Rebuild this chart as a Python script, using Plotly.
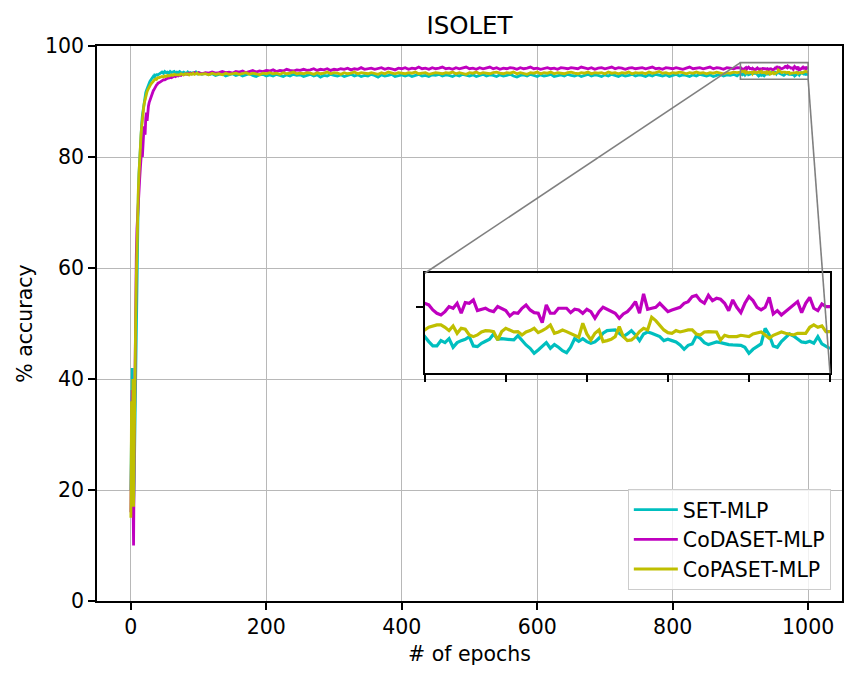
import plotly.graph_objects as go

# ---------------- data ----------------
EPOCHS_EARLY = list(range(0, 41))
EPOCHS_RAMP = list(range(42, 101, 2))
EPOCHS_MID = list(range(105, 900, 5))
EPOCHS_ZOOM = list(range(900, 1001))
EPOCHS = EPOCHS_EARLY + EPOCHS_RAMP + EPOCHS_MID + EPOCHS_ZOOM

SET_EARLY = [20, 33, 42, 30, 17, 22, 32, 44, 54, 62, 68, 73, 77, 80, 82.5, 84.5, 86, 87.5, 88.5, 89.5,
             90.3, 91, 91.6, 92, 92.4, 92.8, 93.1, 93.4, 93.6, 93.8, 94, 94.2, 94.3, 94.5, 94.4, 94.7,
             94.6, 94.9, 94.7, 95.0, 94.8]
SET_RAMP = [95.0, 95.1, 95.3, 95.1, 95.4, 95.2, 95.3, 95.1, 95.4, 95.2, 95.3, 95.4, 95.1, 95.3, 95.2,
            95.4, 95.2, 95.1, 95.3, 95.2, 95.0, 95.3, 95.1, 95.2, 95.0, 95.2, 95.1, 95.3, 95.0, 95.2]
SET_MID = [94.9, 95.1, 94.8, 95.0, 94.7, 94.9, 95.0, 94.6, 94.8, 95.0,
           94.7, 94.9, 94.6, 94.8, 95.0, 94.7, 94.5, 94.8, 94.9, 94.6,
           94.8, 94.6, 94.9, 94.7, 94.5, 94.8, 94.6, 94.9, 94.7, 94.8,
           94.5, 94.7, 94.9, 94.6, 94.8, 94.4, 94.7, 94.6, 94.9, 94.7,
           94.6, 94.8, 94.5, 94.7, 94.9, 94.6, 94.8, 94.5, 94.7, 94.6,
           94.9, 94.7, 94.4, 94.8, 94.6, 94.7, 94.9, 94.5, 94.7, 94.8,
           94.6, 94.8, 94.5, 94.7, 94.9, 94.6, 94.7, 94.5, 94.8, 94.7,
           94.9, 94.6, 94.8, 94.7, 94.5, 94.8, 94.6, 94.9, 94.7, 94.6,
           94.8, 94.5, 94.7, 94.9, 94.6, 94.8, 94.7, 94.5, 94.8, 94.6,
           94.7, 94.9, 94.6, 94.4, 94.7, 94.8, 94.6, 94.9, 94.7, 94.5,
           94.8, 94.6, 94.7, 94.9, 94.5, 94.7, 94.8, 94.6, 94.9, 94.7,
           94.6, 94.8, 94.5, 94.7, 94.9, 94.6, 94.8, 94.7, 94.5, 94.8,
           94.6, 94.9, 94.7, 94.5, 94.8, 94.6, 94.7, 94.9, 94.6, 94.8,
           94.7, 94.5, 94.8, 94.6, 94.9, 94.7, 94.6, 94.8, 94.5, 94.7,
           94.9, 94.6, 94.8, 94.7, 94.5, 94.8, 94.6, 94.9, 94.7, 94.6,
           94.8, 94.5, 94.7, 94.9, 94.6, 94.8, 94.7, 94.9, 94.6]
SET_ZOOM = [95.10, 94.95, 94.82, 94.82, 94.98, 94.92, 95.04, 94.78, 94.92, 94.98,
            95.02, 95.10, 94.82, 94.80, 94.90, 94.96, 95.02, 95.18, 95.02, 95.04,
            95.02, 95.00, 95.00, 95.13, 94.98, 94.85, 94.75, 94.60, 94.70, 94.80,
            94.92, 94.75, 94.86, 94.78, 94.68, 94.62, 94.78, 95.04, 94.96, 95.04,
            94.95, 94.90, 94.94, 95.05, 95.20, 95.28, 95.30, 95.30, 95.20, 95.10,
            95.18, 95.28, 95.15, 94.98, 95.18, 95.24, 95.20, 95.14, 95.10, 94.98,
            95.02, 94.98, 94.94, 94.85, 94.72, 94.84, 94.88, 95.12, 95.05, 94.92,
            94.86, 94.90, 94.94, 94.92, 94.88, 94.86, 94.85, 94.85, 94.84, 94.78,
            94.60, 94.72, 94.80, 94.88, 95.35, 95.15, 94.82, 94.78, 94.95, 95.08,
            95.18, 95.12, 95.04, 94.94, 94.92, 94.96, 94.90, 95.10, 94.88, 94.82,
            94.74]

CODA_EARLY = [16, 28, 38, 20, 10, 28, 44, 55, 62, 67, 70, 72, 74, 76, 78, 80, 81.5, 80, 83, 84.5,
              85.5, 84, 87, 88, 86.5, 88.5, 89.2, 89.8, 90.2, 90.6, 91, 91.3, 91.6, 91.9, 92.1, 92.4,
              92.6, 92.8, 93.0, 93.1, 93.3]
CODA_RAMP = [93.4, 93.6, 93.7, 93.9, 93.9, 94.1, 94.2, 94.2, 94.4, 94.3, 94.5, 94.6, 94.5, 94.7, 94.6,
             94.8, 94.7, 94.9, 94.8, 94.9, 95.0, 94.9, 95.1, 95.0, 95.1, 95.0, 95.2, 95.1, 95.0, 95.2]
CODA_MID = [95.0, 95.2, 95.1, 95.3, 95.1, 95.2, 95.4, 95.2, 95.3, 95.1,
            95.4, 95.3, 95.5, 95.2, 95.4, 95.6, 95.3, 95.5, 95.4, 95.6,
            95.5, 95.7, 95.4, 95.6, 95.5, 95.8, 95.6, 95.5, 95.7, 95.6,
            95.8, 95.6, 95.7, 95.9, 95.6, 95.8, 95.7, 95.9, 95.6, 95.8,
            95.7, 95.9, 95.8, 96.0, 95.7, 95.9, 95.8, 96.1, 95.8, 95.9,
            96.0, 95.8, 95.9, 96.1, 95.8, 96.0, 95.9, 95.7, 96.0, 95.9,
            96.1, 95.8, 96.0, 95.9, 96.2, 95.9, 96.0, 95.8, 96.1, 95.9,
            96.0, 96.2, 95.9, 96.0, 95.8, 96.1, 95.9, 96.0, 96.2, 95.9,
            96.0, 95.8, 96.1, 95.9, 96.0, 96.2, 95.9, 96.1, 95.8, 96.0,
            95.9, 96.1, 96.0, 95.8, 96.1, 95.9, 96.0, 96.2, 95.9, 96.0,
            95.8, 96.0, 96.1, 95.9, 96.0, 95.8, 96.1, 96.0, 95.9, 96.1,
            96.0, 95.9, 96.2, 96.0, 95.9, 96.1, 95.8, 96.0, 96.1, 95.9,
            96.0, 96.2, 95.9, 96.1, 96.0, 95.8, 96.0, 96.1, 95.9, 96.0,
            96.1, 95.9, 96.0, 96.2, 95.9, 96.0, 95.8, 96.1, 96.0, 95.9,
            96.1, 96.0, 95.8, 96.0, 96.2, 95.9, 96.0, 96.1, 95.9, 96.0,
            96.2, 95.9, 96.1, 96.0, 95.8, 96.1, 96.0, 95.9, 96.1]
CODA_ZOOM = [96.10, 96.05, 95.90, 95.80, 95.75, 95.85, 96.00, 95.95, 96.10, 95.80,
             96.12, 96.10, 96.20, 95.88, 95.92, 95.95, 95.88, 95.85, 96.00, 95.95,
             95.88, 95.72, 95.82, 95.80, 95.95, 96.05, 95.90, 95.82, 95.80, 95.52,
             96.05, 95.80, 95.80, 95.95, 95.95, 95.95, 95.82, 95.92, 95.90, 95.80,
             95.92, 95.85, 95.65, 95.85, 95.98, 95.92, 95.85, 95.80, 95.65, 95.78,
             95.85, 95.98, 96.15, 95.80, 96.38, 95.92, 95.95, 95.98, 96.10, 95.98,
             95.85, 95.90, 95.95, 95.98, 96.10, 96.15, 96.30, 96.34, 96.18, 96.10,
             96.34, 96.18, 96.25, 96.22, 96.10, 95.88, 96.20, 95.98, 95.82, 96.10,
             96.30, 96.18, 95.98, 95.90, 95.98, 96.28, 95.78, 95.88, 95.75, 95.85,
             95.92, 96.02, 96.15, 95.82, 96.10, 96.28, 95.95, 95.88, 96.08, 96.00,
             96.00]

COPA_EARLY = [15, 36, 20, 40, 17, 34, 40, 50, 58, 65, 70, 74, 77, 80, 82, 84, 85.5, 87, 88, 89,
              89.8, 90.4, 91, 91.4, 91.8, 92.1, 92.4, 92.6, 92.8, 93, 93.2, 93.3, 93.5, 93.6, 93.8,
              93.9, 94.0, 94.1, 94.0, 94.2, 94.3]
COPA_RAMP = [94.3, 94.4, 94.5, 94.4, 94.6, 94.5, 94.7, 94.6, 94.7, 94.8, 94.7, 94.9, 94.8, 94.8, 94.9,
             94.8, 95.0, 94.9, 94.8, 95.0, 94.9, 95.0, 94.8, 95.0, 94.9, 95.1, 94.9, 95.0, 95.1, 94.9]
COPA_MID = [94.9, 95.0, 94.8, 95.1, 94.9, 95.0, 94.8, 95.1, 94.9, 95.0,
            95.1, 94.9, 95.0, 95.2, 94.9, 95.1, 95.0, 94.8, 95.1, 95.0,
            95.2, 95.0, 95.1, 94.9, 95.2, 95.0, 95.1, 95.3, 95.0, 95.1,
            95.0, 95.2, 95.1, 94.9, 95.2, 95.0, 95.1, 95.3, 95.0, 95.2,
            95.1, 94.9, 95.2, 95.0, 95.1, 95.3, 95.0, 95.2, 95.1, 95.0,
            95.2, 95.1, 94.9, 95.2, 95.0, 95.3, 95.1, 95.0, 95.2, 95.1,
            95.0, 95.2, 95.1, 95.3, 95.0, 95.1, 95.2, 94.9, 95.1, 95.2,
            95.1, 95.0, 95.2, 95.1, 95.3, 95.0, 95.2, 95.1, 94.9, 95.2,
            95.1, 95.3, 95.0, 95.2, 95.1, 95.0, 95.2, 95.3, 95.1, 95.0,
            95.2, 95.1, 95.3, 95.0, 95.2, 95.1, 94.9, 95.2, 95.1, 95.3,
            95.0, 95.2, 95.1, 95.3, 95.0, 95.2, 95.1, 95.0, 95.2, 95.3,
            95.1, 95.0, 95.2, 95.1, 95.3, 95.0, 95.2, 95.1, 95.2, 95.0,
            95.3, 95.1, 95.2, 95.0, 95.2, 95.1, 95.3, 95.0, 95.2, 95.1,
            95.2, 95.0, 95.3, 95.1, 95.2, 95.4, 95.1, 95.2, 95.0, 95.2,
            95.1, 95.3, 95.2, 95.0, 95.2, 95.1, 95.3, 95.1, 95.2, 95.0,
            95.2, 95.1, 95.3, 95.2, 95.0, 95.2, 95.1, 95.3, 95.2]
COPA_ZOOM = [95.30, 95.38, 95.42, 95.45, 95.45, 95.38, 95.28, 95.42, 95.20, 95.35,
             95.32, 95.15, 95.10, 95.15, 95.24, 95.28, 95.27, 95.25, 95.00, 95.25,
             95.35, 95.30, 95.24, 95.25, 95.15, 95.24, 95.28, 95.35, 95.22, 95.28,
             95.35, 95.45, 95.20, 95.24, 95.30, 95.25, 95.20, 95.15, 95.08, 95.50,
             95.18, 95.00, 95.20, 95.30, 94.95, 94.98, 95.02, 95.10, 95.40, 95.10,
             94.98, 95.00, 95.10, 95.25, 95.35, 95.30, 95.68, 95.58, 95.45, 95.30,
             95.22, 95.20, 95.28, 95.24, 95.27, 95.30, 95.30, 95.18, 95.15, 95.24,
             95.25, 95.25, 95.24, 95.00, 95.14, 95.10, 95.10, 95.10, 95.14, 95.12,
             95.10, 95.18, 95.22, 95.24, 95.15, 95.05, 95.14, 95.18, 95.24, 95.20,
             95.18, 95.15, 95.20, 95.20, 95.20, 95.38, 95.45, 95.38, 95.42, 95.25,
             95.25]

SERIES = [
    ("SET-MLP", SET_EARLY + SET_RAMP + SET_MID + SET_ZOOM, "#00BFBF"),
    ("CoDASET-MLP", CODA_EARLY + CODA_RAMP + CODA_MID + CODA_ZOOM, "#BF00BF"),
    ("CoPASET-MLP", COPA_EARLY + COPA_RAMP + COPA_MID + COPA_ZOOM, "#BFBF00"),
]

X_RANGE = [-50, 1050]
Y_RANGE = [0, 100]
X_TICKS = [0, 200, 400, 600, 800, 1000]
Y_TICKS = [0, 20, 40, 60, 80, 100]
INSET_X = [900, 1000]
INSET_Y = [94, 97]
INSET_XTICKS = [900, 920, 940, 960, 980, 1000]
INSET_YTICKS = [96]

# ---------------- figure ----------------
W, H = 865, 680
ML, MR, MT, MB = 97, 23, 46, 79
FONT = "DejaVu Sans"
FS = 20.5
LW = 2.8

INSET_DOM_X = [0.4399, 0.9839]
INSET_DOM_Y = [0.4103, 0.5905]

fig = go.Figure()
for name, vals, col in SERIES:
    fig.add_trace(go.Scatter(x=EPOCHS, y=vals, mode="lines", name=name, legendgroup=name,
                             line=dict(color=col, width=LW), xaxis="x", yaxis="y"))
for name, vals, col in SERIES:
    fig.add_trace(go.Scatter(x=EPOCHS, y=vals, mode="lines", name=name, showlegend=False,
                             legendgroup=name,
                             line=dict(color=col, width=LW + 0.4), xaxis="x2", yaxis="y2"))

axis_common = dict(showline=True, linecolor="black", linewidth=1.6, mirror=True,
                   ticks="outside", ticklen=7, tickwidth=1.6, tickcolor="black",
                   zeroline=False, tickfont=dict(family=FONT, size=FS, color="black"))

fig.update_layout(
    width=W, height=H,
    margin=dict(l=ML, r=MR, t=MT, b=MB),
    paper_bgcolor="white", plot_bgcolor="white",
    font=dict(family=FONT, size=FS, color="black"),
    title=dict(text="ISOLET", x=0.5, xref="paper", xanchor="center",
               y=1, yref="paper", yanchor="bottom", pad=dict(b=12),
               font=dict(family=FONT, size=24.5, color="black")),
    xaxis=dict(range=X_RANGE, tickvals=X_TICKS, showgrid=True, gridcolor="#b8b8b8", gridwidth=1.2,
               title=dict(text="# of epochs", font=dict(family=FONT, size=FS, color="black"), standoff=8),
               **axis_common),
    yaxis=dict(range=Y_RANGE, tickvals=Y_TICKS, showgrid=True, gridcolor="#b8b8b8", gridwidth=1.2,
               title=dict(text="% accuracy", font=dict(family=FONT, size=FS, color="black"), standoff=7),
               **axis_common),
    xaxis2=dict(domain=INSET_DOM_X, anchor="y2", range=INSET_X, tickvals=INSET_XTICKS,
                showticklabels=False, showgrid=False, **axis_common),
    yaxis2=dict(domain=INSET_DOM_Y, anchor="x2", range=INSET_Y, tickvals=INSET_YTICKS,
                showticklabels=False, showgrid=False, **axis_common),
    legend=dict(x=0.985, xanchor="right", y=0.02, yanchor="bottom",
                bgcolor="rgba(255,255,255,0.8)", bordercolor="#cccccc", borderwidth=1,
                font=dict(family=FONT, size=FS, color="black"),
                traceorder="grouped", tracegroupgap=0, itemwidth=44),
    showlegend=True,
)


def px(x):
    return (x - X_RANGE[0]) / (X_RANGE[1] - X_RANGE[0])


def py(y):
    return (y - Y_RANGE[0]) / (Y_RANGE[1] - Y_RANGE[0])


# zoom rectangle in main axes
fig.add_shape(type="rect", xref="x", yref="y", x0=INSET_X[0], x1=INSET_X[1],
              y0=INSET_Y[0], y1=INSET_Y[1], line=dict(color="#808080", width=1.6))
# connector lines (mark_inset loc1=2, loc2=4)
fig.add_shape(type="line", xref="paper", yref="paper",
              x0=px(INSET_X[0]), y0=py(INSET_Y[1]), x1=INSET_DOM_X[0], y1=INSET_DOM_Y[1],
              line=dict(color="#808080", width=1.6))
fig.add_shape(type="line", xref="paper", yref="paper",
              x0=px(INSET_X[1]), y0=py(INSET_Y[0]), x1=INSET_DOM_X[1], y1=INSET_DOM_Y[0],
              line=dict(color="#808080", width=1.6))

fig.write_html("out.html")
